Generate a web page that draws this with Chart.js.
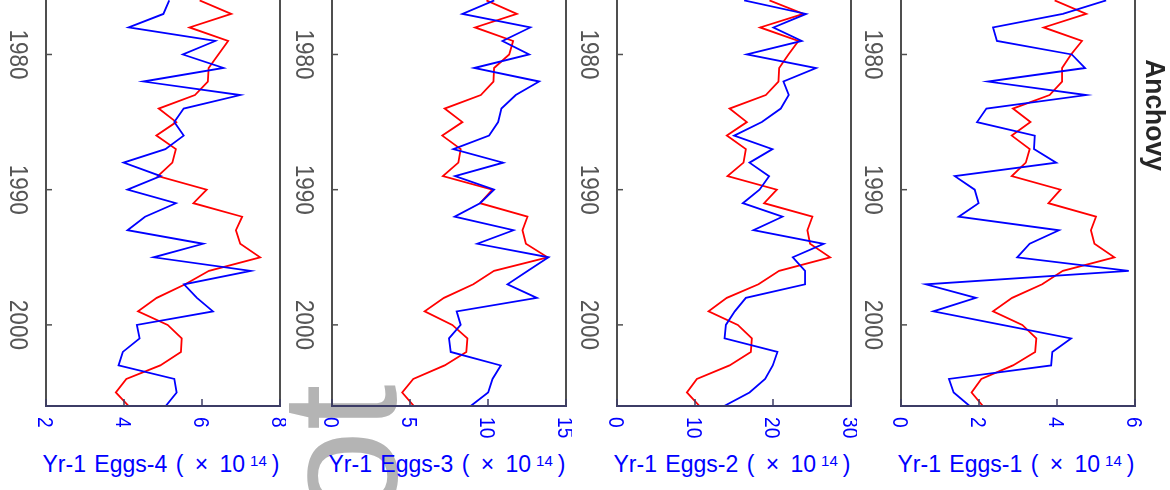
<!DOCTYPE html>
<html>
<head>
<meta charset="utf-8">
<script src="https://cdn.jsdelivr.net/npm/chart.js@4.4.1/dist/chart.umd.min.js"></script>
<style>
  html, body { margin:0; padding:0; background:#ffffff; }
  body { width:1170px; height:490px; overflow:hidden; position:relative; font-family:'Liberation Sans', Arial, sans-serif; }
  canvas { position:absolute; top:0; z-index:1; }
  .wm { position:absolute; left:257px; top:522px; font:165px 'Liberation Sans', Arial, sans-serif; line-height:165px; color:#b4b4b4; transform-origin:0 0; transform:rotate(-90deg); white-space:nowrap; z-index:0; }
  .title { position:absolute; top:453px; width:280px; text-align:center; font:23px 'Liberation Sans', Arial, sans-serif; line-height:23px; color:#0000ff; white-space:nowrap; word-spacing:2px; z-index:2; }
  .title .times { margin:0 3px; }
  .title .sup { font-size:15px; position:relative; top:-6px; margin:0 5px 0 5px; }
</style>
</head>
<body>
<div class="wm">ot</div>
<script>
// ---------------- data ----------------
const YEARS = [1976,1977,1978,1979,1980,1981,1982,1983,1984,1985,1986,1987,1988,1989,1990,
               1991,1992,1993,1994,1995,1996,1997,1998,1999,2000,2001,2002,2003,2004,2005,2006];
const YEAR_TICKS = [1980, 1990, 2000];

const EGGS4_BLUE = [5.16,5.01,4.12,6.34,5.51,6.55,4.50,6.98,5.53,5.29,5.53,5.06,3.99,4.94,4.09,
                    5.33,4.54,4.09,6.03,4.76,7.25,5.54,5.87,6.28,4.33,4.40,3.97,3.86,5.29,5.35,5.07];
const EGGS4_RED  = [5.94,6.75,5.68,6.67,6.42,6.17,6.15,5.82,4.89,5.34,4.83,5.33,5.24,4.87,6.12,
                    5.78,7.03,6.87,6.98,7.49,6.18,5.57,4.84,4.36,5.12,5.48,5.46,4.93,4.06,3.79,4.12];
const EGGS4_TICKS = [2,4,6,8];

const EGGS3_BLUE = [10.4,8.36,12.71,10.93,12.64,9.11,13.28,11.78,10.86,10.65,10.07,7.78,10.97,7.89,10.39,
                    9.49,7.86,11.63,9.32,13.88,12.56,11.25,13.13,7.99,8.25,7.50,7.61,10.82,10.29,10.01,8.89];
const EGGS3_RED  = [9.9,11.85,9.17,11.61,11.36,10.39,10.35,9.54,7.22,8.36,7.07,8.25,8.10,7.11,10.28,
                    9.49,12.53,12.21,12.43,13.82,10.39,9.06,7.18,5.94,7.71,8.68,8.61,7.22,5.21,4.50,5.25];
const EGGS3_TICKS = [0,5,10,15];

const EGGS2_BLUE = [16.3,24.24,20.06,23.69,16.65,25.52,21.34,22.02,21.0,18.57,15.02,19.93,16.99,19.5,18.27,
                    16.13,21.21,17.5,26.5,22.54,24.11,24.11,16.52,15.1,13.96,13.79,20.57,19.97,18.99,16.99,13.74];
const EGGS2_RED  = [19.55,23.9,18.35,23.26,21.98,20.79,20.70,19.08,14.43,16.65,14.08,16.52,16.22,14.17,20.49,
                    18.86,25.05,24.41,24.75,27.32,20.79,18.14,14.08,11.74,15.49,17.29,17.16,14.43,10.24,8.96,10.58];
const EGGS2_TICKS = [0,10,20,30];

const EGGS1_BLUE = [5.26,4.15,2.36,2.46,4.38,4.72,2.23,4.75,2.19,1.95,3.43,3.41,3.98,1.38,1.89,
                    1.99,1.48,4.05,3.30,2.98,5.84,0.64,1.92,0.83,2.59,4.36,3.88,3.85,1.23,1.35,1.76];
const EGGS1_RED  = [3.94,4.75,3.66,4.64,4.36,4.13,4.13,3.81,2.87,3.32,2.84,3.30,3.20,2.84,4.09,
                    3.78,5.0,4.87,4.96,5.47,4.15,3.62,2.85,2.36,3.11,3.47,3.44,2.87,2.06,1.81,2.10];
const EGGS1_TICKS = [0,2,4,6];

const AXIS_TITLES = ['Yr-1 Eggs-4', 'Yr-1 Eggs-3', 'Yr-1 Eggs-2', 'Yr-1 Eggs-1'];
const SPECIES = 'Anchovy';

// ---------------- layout ----------------
const FONT = "'Liberation Sans', Arial, sans-serif";
const PANELS = [
  {title: AXIS_TITLES[0], blue: EGGS4_BLUE, red: EGGS4_RED, ticks: EGGS4_TICKS, plotLeft: 46},
  {title: AXIS_TITLES[1], blue: EGGS3_BLUE, red: EGGS3_RED, ticks: EGGS3_TICKS, plotLeft: 332},
  {title: AXIS_TITLES[2], blue: EGGS2_BLUE, red: EGGS2_RED, ticks: EGGS2_TICKS, plotLeft: 617},
  {title: AXIS_TITLES[3], blue: EGGS1_BLUE, red: EGGS1_RED, ticks: EGGS1_TICKS, plotLeft: 901, species: SPECIES}
];
const PLOT_W = 234, PLOT_BOTTOM = 406, CANVAS_H = 450, LEFT_PAD = 46;

function rotText(ctx, text, x, y, angle, font, color, align, baseline, sAlong) {
  ctx.save();
  ctx.translate(x, y);
  ctx.rotate(angle);
  ctx.scale(sAlong, 1);
  ctx.font = font;
  ctx.fillStyle = color;
  ctx.textAlign = align;
  ctx.textBaseline = baseline;
  ctx.fillText(text, 0, 0);
  ctx.restore();
}

const axesPlugin = {
  id: 'matlabAxes',
  afterDraw(chart, args, opts) {
    const {ctx, chartArea: a} = chart;
    const xs = chart.scales.x, ys = chart.scales.y;
    const seg = (x1, y1, x2, y2) => { ctx.beginPath(); ctx.moveTo(x1, y1); ctx.lineTo(x2, y2); ctx.stroke(); };
    ctx.save();
    ctx.lineCap = 'butt';
    // box sides
    ctx.lineWidth = 2;
    ctx.strokeStyle = '#4f4f4f';
    seg(a.left, 0, a.left, a.bottom);
    seg(a.right, 0, a.right, a.bottom);
    // bottom axis
    ctx.strokeStyle = '#3c3c66';
    seg(a.left - 1, a.bottom, a.right + 1, a.bottom);
    // year ticks + labels
    ctx.lineWidth = 1.5;
    ctx.strokeStyle = '#4f4f4f';
    YEAR_TICKS.forEach(yr => {
      const py = ys.getPixelForValue(yr);
      seg(a.left, py, a.left + 6, py);
      rotText(ctx, String(yr), a.left - 36, py, Math.PI / 2, '25px ' + FONT, '#555555', 'center', 'alphabetic', 0.9);
    });
    // value ticks + labels
    ctx.strokeStyle = '#3c3c66';
    opts.ticks.forEach(t => {
      const px = xs.getPixelForValue(t);
      seg(px, a.bottom, px, a.bottom - 7);
      rotText(ctx, String(t), px - 7.9, a.bottom + 11, Math.PI / 2, '22px ' + FONT, '#0000ff', 'left', 'alphabetic', 0.87);
    });
    if (opts.species) {
      rotText(ctx, opts.species, a.right + 11, 115, Math.PI / 2, 'bold 27px ' + FONT, '#262626', 'center', 'alphabetic', 0.98);
    }
    ctx.restore();
  }
};

PANELS.forEach((p, i) => {
  const canvasLeft = p.plotLeft - LEFT_PAD;
  const width = p.species ? (1170 - canvasLeft) : (LEFT_PAD + PLOT_W + 6);
  const cv = document.createElement('canvas');
  cv.width = width; cv.height = CANVAS_H;
  cv.style.left = canvasLeft + 'px';
  cv.style.width = width + 'px'; cv.style.height = CANVAS_H + 'px';
  document.body.appendChild(cv);

  const blueData = YEARS.map((yr, k) => ({x: p.blue[k], y: yr}));
  const redData = YEARS.map((yr, k) => ({x: p.red[k], y: yr}));

  new Chart(cv, {
    type: 'scatter',
    data: {
      datasets: [
        {label: p.title + ' (eggs)', data: blueData, showLine: true, borderColor: '#0000ff', backgroundColor: '#0000ff',
         borderWidth: 1.8, pointRadius: 0, tension: 0},
        {label: p.title + ' (recruits)', data: redData, showLine: true, borderColor: '#ff0000', backgroundColor: '#ff0000',
         borderWidth: 1.8, pointRadius: 0, tension: 0}
      ]
    },
    options: {
      responsive: false,
      animation: false,
      devicePixelRatio: 1,
      layout: {padding: {left: LEFT_PAD, right: width - LEFT_PAD - PLOT_W, top: 0, bottom: CANVAS_H - PLOT_BOTTOM}},
      plugins: {
        legend: {display: false},
        tooltip: {enabled: false},
        matlabAxes: {ticks: p.ticks, species: p.species}
      },
      scales: {
        x: {type: 'linear', display: false, min: p.ticks[0], max: p.ticks[p.ticks.length - 1]},
        y: {type: 'linear', display: false, reverse: true, min: 1975.97, max: 2006}
      }
    },
    plugins: [axesPlugin]
  });

  const t = document.createElement('div');
  t.className = 'title';
  t.style.left = (p.plotLeft + PLOT_W / 2 - 140 - 2) + 'px';
  t.innerHTML = p.title + ' ( <span class="times">×</span> 10<span class="sup">14</span>)';
  document.body.appendChild(t);
});
</script>
</body>
</html>
